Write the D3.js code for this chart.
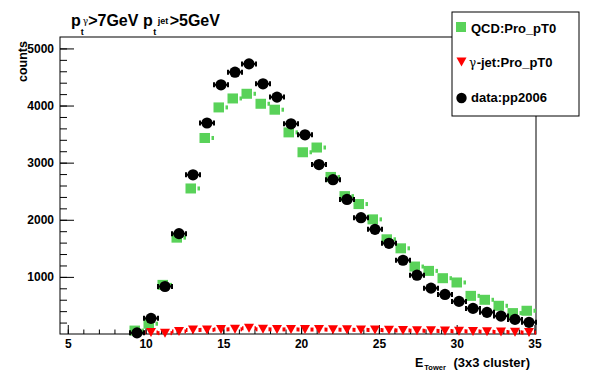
<!DOCTYPE html>
<html>
<head>
<meta charset="utf-8">
<script src="https://cdn.jsdelivr.net/npm/d3@7"></script>
<style>
  html, body { margin: 0; padding: 0; background: #fff; }
  svg { display: block; font-family: "Liberation Sans", Arial, Helvetica, sans-serif; }
</style>
</head>
<body>
<svg id="chart" width="596" height="372"></svg>
<script>
// ---- data ----
const binCenters = [9.45, 10.35, 11.25, 12.15, 13.05, 13.95, 14.85, 15.75, 16.65, 17.55,
  18.45, 19.35, 20.25, 21.15, 22.05, 22.95, 23.85, 24.75, 25.65, 26.55,
  27.45, 28.35, 29.25, 30.15, 31.05, 31.95, 32.85, 33.75, 34.65];
const qcdValues = [60, 180, 860, 1687, 2548, 3432, 3967, 4124, 4206, 4031,
  3927, 3530, 3182, 3265, 2750, 2414, 2275, 2007, 1658, 1500,
  1181, 1105, 977, 902, 668, 599, 494, 366, 407];
const gammaJetValues = [null, 25, 15, 45, 70, 72, 80, 82, 100, 82,
  80, 80, 78, 78, 76, 74, 72, 70, 66, 62,
  58, 55, 52, 48, 45, 40, 35, 30, 25];
const dataValues = [20, 274, 832, 1757, 2787, 3694, 4363, 4584, 4729, 4380,
  4148, 3680, 3488, 2967, 2702, 2356, 2036, 1832, 1588, 1291,
  1030, 803, 693, 571, 448, 379, 314, 256, 204];
const binWidth = 0.9;
const xTickValues = [5, 10, 15, 20, 25, 30, 35];
const yTickValues = [1000, 2000, 3000, 4000, 5000];
const legendLabels = ["QCD:Pro_pT0", "-jet:Pro_pT0", "data:pp2006"];

// ---- layout ----
const svg = d3.select("#chart");
const L = 60, R = 536, T = 37, B = 334;
const x = d3.scaleLinear().domain([4.5, 35.1]).range([L, R]);
const y = d3.scaleLinear().domain([0, 5200]).range([B, T]);
const GREEN = "#59d259", RED = "#ff0000";

svg.append("rect").attr("width", 596).attr("height", 372).attr("fill", "#fff");

// axes
const yMinor = d3.axisLeft(y).tickValues(d3.range(200, 5200, 200)).tickSize(-7).tickFormat("");
const yMajor = d3.axisLeft(y).tickValues(yTickValues).tickSize(-14).tickPadding(6).tickFormat(d3.format("d"));
const xMinor = d3.axisBottom(x).tickValues(d3.range(5, 36, 1)).tickSize(-4.5).tickFormat("");
const xMajor = d3.axisBottom(x).tickValues(xTickValues).tickSize(-9).tickPadding(5.5).tickFormat(d3.format("d"));

function styleAxis(g) {
  g.select(".domain").remove();
  g.selectAll("line").attr("stroke", "#000").attr("stroke-width", 1);
  g.selectAll("text").attr("fill", "#000").attr("font-size", 12).attr("font-weight", "bold")
    .attr("font-family", "'Liberation Sans', Arial, sans-serif");
}
svg.append("g").attr("transform", `translate(${L},0)`).call(yMinor).call(styleAxis);
svg.append("g").attr("transform", `translate(${L},0)`).call(yMajor).call(styleAxis);
svg.append("g").attr("transform", `translate(0,${B})`).call(xMinor).call(styleAxis);
svg.append("g").attr("transform", `translate(0,${B})`).call(xMajor).call(styleAxis);

// frame
svg.append("rect").attr("x", L).attr("y", T).attr("width", R - L).attr("height", B - T)
  .attr("fill", "none").attr("stroke", "#000").attr("stroke-width", 1);

// ---- series ----
const bw = x(binWidth) - x(0);
const half = bw / 2;

// QCD (green squares)
const qcd = svg.append("g");
binCenters.forEach((c, i) => {
  const v = qcdValues[i]; if (v == null) return;
  const cx = x(c), cy = y(v);
  qcd.append("rect").attr("x", cx - 7.5).attr("y", cy - 5).attr("width", 10.5).attr("height", 10).attr("fill", GREEN);
  qcd.append("rect").attr("x", cx + 4.5).attr("y", cy - 2).attr("width", half - 4.5).attr("height", 4).attr("fill", GREEN);
});

// gamma-jet (red down triangles)
const gj = svg.append("g");
binCenters.forEach((c, i) => {
  const v = gammaJetValues[i]; if (v == null) return;
  const cx = x(c), cy = y(v);
  gj.append("rect").attr("x", cx - half).attr("y", cy - 2).attr("width", half - 5.5).attr("height", 4).attr("fill", RED);
  gj.append("rect").attr("x", cx + 5.5).attr("y", cy - 2).attr("width", half - 5.5).attr("height", 4).attr("fill", RED);
  gj.append("path").attr("d", `M${cx - 5},${cy - 4.5}L${cx + 5},${cy - 4.5}L${cx},${cy + 4.5}Z`).attr("fill", RED);
});

// data (black circles with x error bars)
const dg = svg.append("g");
binCenters.forEach((c, i) => {
  const v = dataValues[i]; if (v == null) return;
  const cx = x(c), cy = y(v);
  const e = y(0) - y(Math.sqrt(v));
  dg.append("line").attr("x1", cx - half).attr("x2", cx + half).attr("y1", cy).attr("y2", cy)
    .attr("stroke", "#000").attr("stroke-width", 2);
  dg.append("line").attr("x1", cx - half).attr("x2", cx - half).attr("y1", cy - 2.5).attr("y2", cy + 2.5)
    .attr("stroke", "#000").attr("stroke-width", 2);
  dg.append("line").attr("x1", cx + half).attr("x2", cx + half).attr("y1", cy - 2.5).attr("y2", cy + 2.5)
    .attr("stroke", "#000").attr("stroke-width", 2);
  dg.append("line").attr("x1", cx).attr("x2", cx).attr("y1", cy - e).attr("y2", cy + e)
    .attr("stroke", "#000").attr("stroke-width", 2);
  dg.append("circle").attr("cx", cx).attr("cy", cy).attr("r", 5.6).attr("fill", "#000");
});

// ---- text helpers ----
function runs(g, x0, y0, parts) {
  let cx = x0;
  parts.forEach(p => {
    const t = g.append("text")
      .attr("x", cx + (p.dx || 0)).attr("y", y0 + (p.dy || 0))
      .attr("font-size", p.size).attr("font-weight", p.weight || "bold")
      .attr("fill", "#000").text(p.text);
    if (p.family) t.attr("font-family", p.family);
    const w = t.node().getComputedTextLength();
    if (!p.noAdvance) cx += w + (p.dx || 0);
  });
}

// title
runs(svg.append("g"), 71, 26, [
  { text: "p", size: 16 },
  { text: "t", size: 9, dy: 9, dx: 0, noAdvance: true },
  { text: "γ", size: 9, dy: -2, dx: 2, weight: "normal", family: "'DejaVu Serif', serif" },
  { text: ">7GeV p", size: 16, dx: 0 },
  { text: "t", size: 9, dy: 9, dx: 0.5, noAdvance: true },
  { text: "jet", size: 9, dy: -2, dx: 5 },
  { text: ">5GeV", size: 16, dx: 1.5 }
]);

// y axis title
svg.append("text").attr("transform", "translate(26.5,41) rotate(-90)")
  .attr("text-anchor", "end").attr("font-size", 12.5).attr("font-weight", "bold").text("counts");

// x axis title
runs(svg.append("g"), 415, 366.5, [
  { text: "E", size: 12.5 },
  { text: "Tower", size: 7.5, dy: 3.5, dx: 1 },
  { text: "(3x3 cluster)", size: 13, dx: 7.5 }
]);

// ---- legend ----
const lg = svg.append("g");
lg.append("rect").attr("x", 452).attr("y", 12).attr("width", 127).attr("height", 104)
  .attr("fill", "#fff").attr("stroke", "#000").attr("stroke-width", 1);
lg.append("rect").attr("x", 456).attr("y", 22).attr("width", 10).attr("height", 10).attr("fill", GREEN);
lg.append("path").attr("d", "M456.5,57.5L466.5,57.5L461.5,66.5Z").attr("fill", RED);
lg.append("circle").attr("cx", 461.5).attr("cy", 98).attr("r", 5.2).attr("fill", "#000");
lg.append("text").attr("x", 471).attr("y", 33).attr("font-size", 13).attr("font-weight", "bold").text(legendLabels[0]);
runs(lg, 469, 66.5, [
  { text: "γ", size: 12, weight: "normal", family: "'DejaVu Serif', serif" },
  { text: legendLabels[1], size: 13, dx: 0.5 }
]);
lg.append("text").attr("x", 471).attr("y", 102).attr("font-size", 13).attr("font-weight", "bold").text(legendLabels[2]);
</script>
</body>
</html>
